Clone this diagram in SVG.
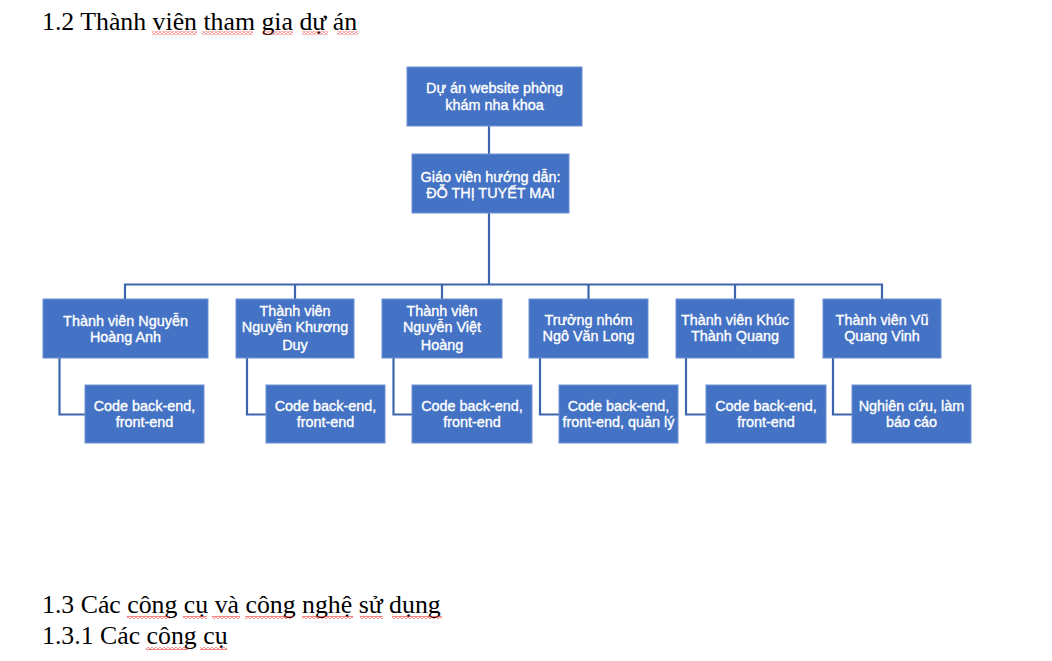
<svg xmlns="http://www.w3.org/2000/svg" width="1052" height="661" viewBox="0 0 1052 661">
<defs>
<pattern id="sq" x="0" y="0" width="4" height="3" patternUnits="userSpaceOnUse">
<path d="M0 2.4 L2 0.6 L4 2.4" fill="none" stroke="#e8201c" stroke-width="1"/>
</pattern>
<style>
.box{fill:#4472C4;stroke:#6F92D2;stroke-width:1}
.lbl{font-family:"Liberation Sans",Arial,sans-serif;font-size:14.4px;fill:#ffffff;stroke:#ffffff;stroke-width:0.35;text-anchor:middle}
.ln{fill:none;stroke:#3C65AE;stroke-width:2.2}
.hd{font-family:"Liberation Serif","Times New Roman",serif;font-size:25.8px;fill:#000000}
.sq{fill:url(#sq)}
</style>
</defs>
<rect width="1052" height="661" fill="#ffffff"/>

<g id="headings">
<text class="hd" x="42" y="30">1.2 Thành viên tham gia dự án</text>
<text class="hd" x="42" y="613">1.3 Các công cụ và công nghệ sử dụng</text>
<text class="hd" x="42" y="644">1.3.1 Các công cụ</text>
</g>
<g id="spellmarks">
<rect class="sq" x="152" y="31.5" width="45" height="3"/>
<rect class="sq" x="202" y="31.5" width="51" height="3"/>
<rect class="sq" x="263" y="31.5" width="30" height="3"/>
<rect class="sq" x="302" y="31.5" width="26" height="3"/>
<rect class="sq" x="337" y="31.5" width="21" height="3"/>
<rect class="sq" x="127" y="616" width="43" height="3"/>
<rect class="sq" x="183" y="616" width="24" height="3"/>
<rect class="sq" x="212" y="616" width="28" height="3"/>
<rect class="sq" x="245" y="616" width="48" height="3"/>
<rect class="sq" x="302" y="616" width="51" height="3"/>
<rect class="sq" x="360" y="616" width="23" height="3"/>
<rect class="sq" x="392" y="616" width="50" height="3"/>
<rect class="sq" x="146" y="647" width="42" height="3"/>
<rect class="sq" x="200" y="647" width="27" height="3"/>
</g>

<g id="connectors">
<path class="ln" d="M489 126 V154"/>
<path class="ln" d="M489 213 V284.5"/>
<path class="ln" d="M125 299 V284.5 H882 V299"/>
<path class="ln" d="M295 284.5 V299"/>
<path class="ln" d="M442 284.5 V299"/>
<path class="ln" d="M588.5 284.5 V299"/>
<path class="ln" d="M735 284.5 V299"/>
<path class="ln" d="M59.5 358 V414.5 H85"/>
<path class="ln" d="M247 358 V414.5 H266"/>
<path class="ln" d="M393.5 358 V414.5 H412"/>
<path class="ln" d="M540 358 V414.5 H559"/>
<path class="ln" d="M686 358 V414.5 H706"/>
<path class="ln" d="M833 358 V414.5 H852"/>
</g>

<g id="project">
<rect class="box" x="407" y="67" width="175" height="59"/>
<text class="lbl" x="494.5" y="93">Dự án website phòng</text>
<text class="lbl" x="494.5" y="109.5">khám nha khoa</text>
</g>
<g id="advisor">
<rect class="box" x="412" y="154" width="157" height="59"/>
<text class="lbl" x="490.5" y="181.5">Giáo viên hướng dẫn:</text>
<text class="lbl" x="490.5" y="197.5">ĐỖ THỊ TUYẾT MAI</text>
</g>

<g id="m1">
<rect class="box" x="43" y="299" width="165" height="59"/>
<text class="lbl" x="125.5" y="325.5">Thành viên Nguyễn</text>
<text class="lbl" x="125.5" y="341.5">Hoàng Anh</text>
</g>
<g id="m2">
<rect class="box" x="236" y="299" width="118" height="59"/>
<text class="lbl" x="295" y="315.5">Thành viên</text>
<text class="lbl" x="295" y="332">Nguyễn Khương</text>
<text class="lbl" x="295" y="349.5">Duy</text>
</g>
<g id="m3">
<rect class="box" x="382" y="299" width="120" height="59"/>
<text class="lbl" x="442" y="315.5">Thành viên</text>
<text class="lbl" x="442" y="332">Nguyễn Việt</text>
<text class="lbl" x="442" y="349.5">Hoàng</text>
</g>
<g id="m4">
<rect class="box" x="529" y="299" width="119" height="59"/>
<text class="lbl" x="588.5" y="325">Trưởng nhóm</text>
<text class="lbl" x="588.5" y="340.5">Ngô Văn Long</text>
</g>
<g id="m5">
<rect class="box" x="676" y="299" width="118" height="59"/>
<text class="lbl" x="735" y="325">Thành viên Khúc</text>
<text class="lbl" x="735" y="340.5">Thành Quang</text>
</g>
<g id="m6">
<rect class="box" x="823" y="299" width="118" height="59"/>
<text class="lbl" x="882" y="325">Thành viên Vũ</text>
<text class="lbl" x="882" y="340.5">Quang Vinh</text>
</g>

<g id="t1">
<rect class="box" x="85" y="385" width="119" height="58"/>
<text class="lbl" x="144.5" y="411">Code back-end,</text>
<text class="lbl" x="144.5" y="427">front-end</text>
</g>
<g id="t2">
<rect class="box" x="266" y="385" width="119" height="58"/>
<text class="lbl" x="325.5" y="411">Code back-end,</text>
<text class="lbl" x="325.5" y="427">front-end</text>
</g>
<g id="t3">
<rect class="box" x="412" y="385" width="120" height="58"/>
<text class="lbl" x="472" y="411">Code back-end,</text>
<text class="lbl" x="472" y="427">front-end</text>
</g>
<g id="t4">
<rect class="box" x="559" y="385" width="119" height="58"/>
<text class="lbl" x="618.5" y="411">Code back-end,</text>
<text class="lbl" x="618.5" y="427">front-end, quản lý</text>
</g>
<g id="t5">
<rect class="box" x="706" y="385" width="120" height="58"/>
<text class="lbl" x="766" y="411">Code back-end,</text>
<text class="lbl" x="766" y="427">front-end</text>
</g>
<g id="t6">
<rect class="box" x="852" y="385" width="119" height="58"/>
<text class="lbl" x="911.5" y="411">Nghiên cứu, làm</text>
<text class="lbl" x="911.5" y="427">báo cáo</text>
</g>
</svg>
